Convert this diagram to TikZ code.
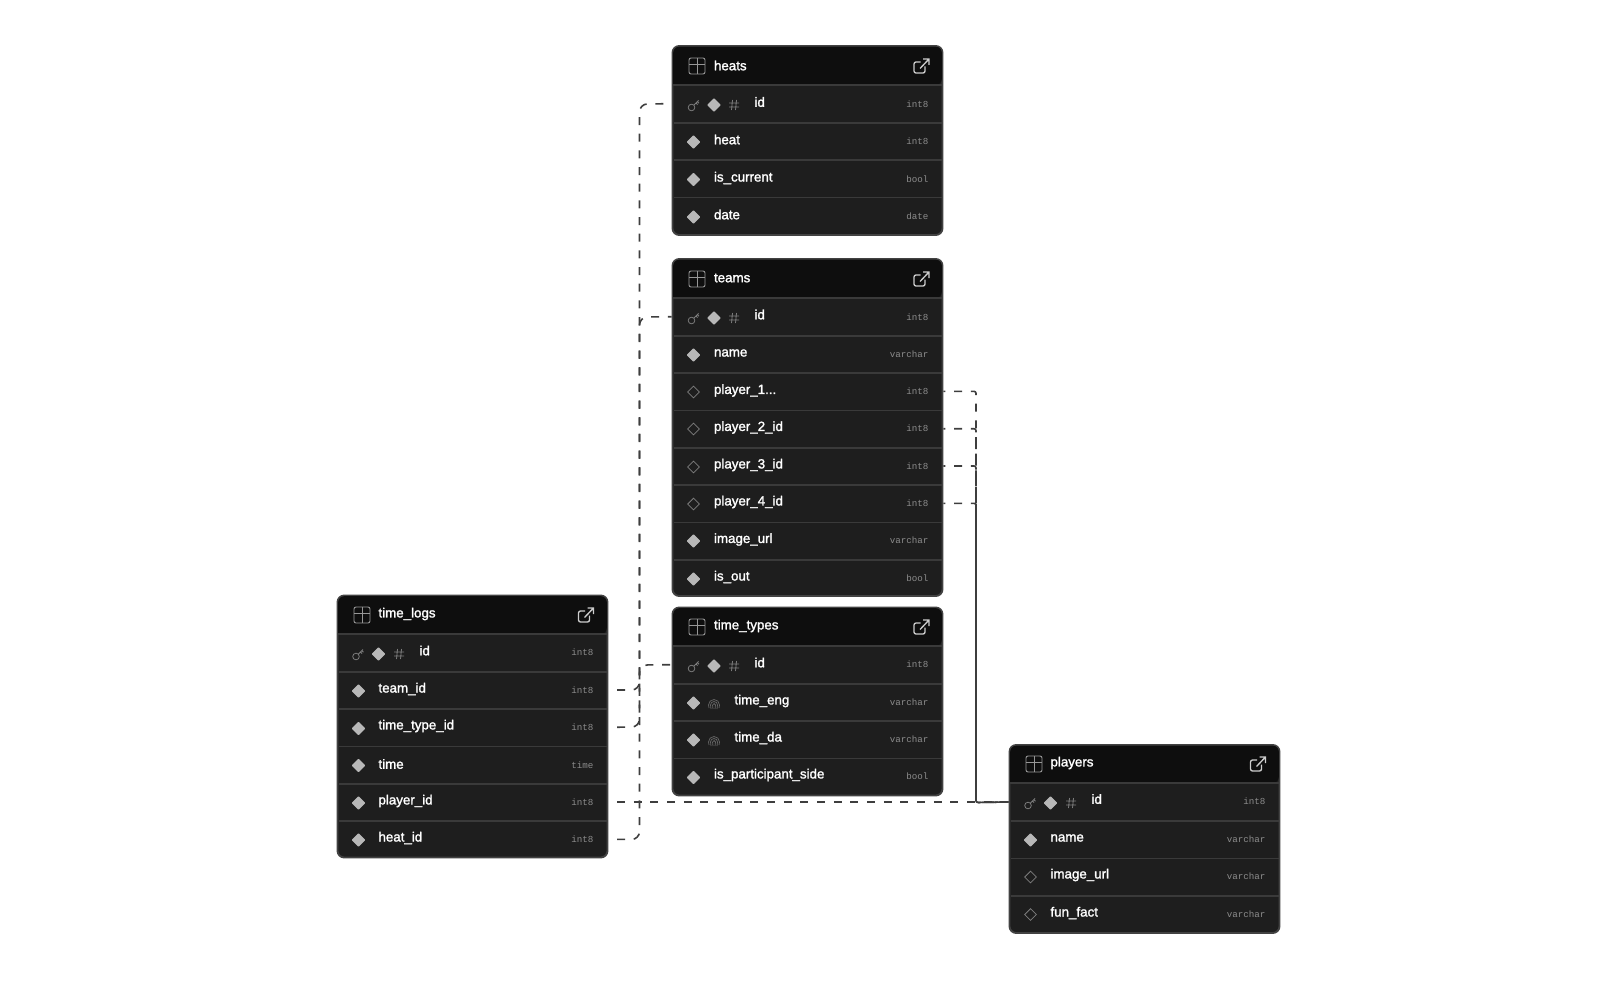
\documentclass[tikz,border=0pt]{standalone}
\usepackage{fontspec}
\setmainfont{Liberation Sans}
\setmonofont{Liberation Mono}
\newfontfamily\fieldfont[FakeBold=1.6]{Liberation Sans}
\usetikzlibrary{shapes.geometric,backgrounds}
\definecolor{tablebody}{RGB}{30,30,30}
\definecolor{tablehead}{RGB}{14,14,14}
\definecolor{tableedge}{RGB}{66,66,66}
\definecolor{rowedge}{RGB}{58,58,58}
\definecolor{iconfill}{RGB}{184,184,184}
\definecolor{icongray}{RGB}{125,125,125}
\definecolor{printgray}{RGB}{100,100,100}
\definecolor{headicon}{RGB}{150,150,150}
\definecolor{openicon}{RGB}{205,205,205}
\definecolor{typegray}{RGB}{140,140,140}
\definecolor{linkgray}{RGB}{62,62,62}
\tikzset{
  every picture/.style={line width=0.75pt},
  tablebox/.style={draw=tableedge,line width=1.4pt,fill=tablebody,rounded corners=5pt,minimum width=270*0.75,inner sep=0pt},
  tablename/.style={anchor=west,inner sep=0pt,text=white,font=\fieldfont\fontsize{10pt}{12pt}\selectfont},
  rowbox/.style={minimum width=267*0.75,minimum height=37.3*0.75,inner sep=0pt,
    append after command={(\tikzlastnode.south west) edge[rowline] (\tikzlastnode.south east)}},
  lastrow/.style={minimum width=267*0.75,minimum height=37.3*0.75,inner sep=0pt},
  rowline/.style={draw=rowedge,line width=1pt},
  fieldname/.style={anchor=west,inner sep=0pt,text=white,font=\fieldfont\fontsize{10pt}{12pt}\selectfont},
  fieldtype/.style={anchor=east,inner sep=0pt,text=typegray,font=\ttfamily\fontsize{6.9pt}{8pt}\selectfont},
  notnull/.style={diamond,draw=iconfill,line join=round,line width=0.8pt,fill=iconfill,minimum width=12.5*0.75,minimum height=12.5*0.75,inner sep=0pt},
  nullable/.style={diamond,draw=icongray,line width=0.6pt,minimum width=12*0.75,minimum height=12*0.75,inner sep=0pt},
  fklink/.style={draw=linkgray,line width=1.2pt,rounded corners=6pt,dash pattern=on 6pt off 6.5pt},
  fkplayer/.style={fklink,rounded corners=1.5pt},
  tableicon/.pic={\draw[yscale=-1,draw=headicon,line width=0.7pt,rounded corners=1.5pt] (-8,-8) rectangle (8,8);
    \draw[yscale=-1,draw=headicon,line width=0.7pt] (-8,-2) -- (8,-2) (0,-8) -- (0,8);},
  linkicon/.pic={\draw[yscale=-1,draw=openicon,line width=1pt,rounded corners=1.5pt] (-1,-4) -- (-7.5,-4) -- (-7.5,7) -- (3.5,7) -- (3.5,0.5);
    \draw[yscale=-1,draw=openicon,line width=1pt] (-1.5,2.5) -- (7.5,-7) (1.5,-7) -- (7.5,-7) -- (7.5,-1);},
  keyicon/.pic={\draw[yscale=-1,draw=icongray,line width=0.6pt] (-2,2.5) circle (3.3) (0.4,0.1) -- (5,-4.5) (2.5,-2) -- (4,-0.5) (3.8,-3.3) -- (5.5,-1.8);},
  hashicon/.pic={\draw[yscale=-1,draw=icongray,line width=0.6pt] (-5,-2) -- (5,-2) (-5,2) -- (5,2) (-1.5,-5) -- (-2.5,5) (2.5,-5) -- (1.5,5);},
  printicon/.pic={\draw[yscale=-1,draw=printgray,line width=0.55pt] (-5.5,2) arc (180:360:5.5) (-5.5,2) -- (-5,5) (5.5,2) -- (5,5)
    (-3.5,2) arc (180:360:3.5) (-3.5,2) -- (-3,6) (3.5,2) -- (3,6) (-1.5,2) arc (180:360:1.5) (-1.5,2) -- (-1,6) (1.5,2) -- (1,6);},
}
\begin{document}
\begin{tikzpicture}[x=0.75pt,y=0.75pt,yscale=-1,xscale=1]
\useasboundingbox (0,0) rectangle (1615,1006);

\coordinate (heats_knee) at (639.5,104);
\coordinate (logs_knee) at (639.5,839.5);
\coordinate (teams_knee) at (639.5,317);
\coordinate (team_id_knee) at (639.5,690);
\coordinate (types_knee) at (639.5,665);
\coordinate (type_id_knee) at (639.5,727);
\coordinate (players_knee) at (976,802.5);
\coordinate (player_one_knee) at (976,391.3);
\coordinate (player_two_knee) at (976,428.7);
\coordinate (player_three_knee) at (976,466);
\coordinate (player_four_knee) at (976,503.3);

%Tables [heats]
\node[tablebox,minimum height=189*0.75] (heats) at (807.5,140.5) {};
\fill[tablehead,rounded corners=4.5pt] (673.2,85) -- (673.2,46.7) -- (941.8,46.7) -- (941.8,85) [sharp corners] -- cycle;
\draw[rowline] (673.2,85) -- (941.8,85);
\pic at (697,66) {tableicon};
\node[tablename] (heats_title) at (713.5,65.5) {heats};
\pic at (921.5,66) {linkicon};
\node[rowbox] (heats_id) at (807.5,103.7) {};
\pic at (693.5,105) {keyicon};
\node[notnull] (heats_id_mark) at (714,105) {};
\pic at (734,105) {hashicon};
\node[fieldname] (heats_id_name) at (754,102) {id};
\node[fieldtype] (heats_id_type) at (929,104) {int8};
\node[rowbox] (heats_heat) at (807.5,141) {};
\node[notnull] (heats_heat_mark) at (693.5,142) {};
\node[fieldname] (heats_heat_name) at (713.5,139.5) {heat};
\node[fieldtype] (heats_heat_type) at (929,141) {int8};
\node[rowbox] (heats_current) at (807.5,178.3) {};
\node[notnull] (heats_current_mark) at (693.5,179.5) {};
\node[fieldname] (heats_current_name) at (713.5,178) {is\_current};
\node[fieldtype] (heats_current_type) at (929,179) {bool};
\node[lastrow] (heats_date) at (807.5,215.7) {};
\node[notnull] (heats_date_mark) at (693.5,217) {};
\node[fieldname] (heats_date_name) at (713.5,214.5) {date};
\node[fieldtype] (heats_date_type) at (929,216) {date};

%Tables [teams]
\node[tablebox,minimum height=337*0.75] (teams) at (807.5,427.5) {};
\fill[tablehead,rounded corners=4.5pt] (673.2,298) -- (673.2,259.7) -- (941.8,259.7) -- (941.8,298) [sharp corners] -- cycle;
\draw[rowline] (673.2,298) -- (941.8,298);
\pic at (697,279) {tableicon};
\node[tablename] (teams_title) at (713.5,278) {teams};
\pic at (921.5,279) {linkicon};
\node[rowbox] (teams_id) at (807.5,316.7) {};
\pic at (693.5,318) {keyicon};
\node[notnull] (teams_id_mark) at (714,318) {};
\pic at (734,318) {hashicon};
\node[fieldname] (teams_id_name) at (754,314.5) {id};
\node[fieldtype] (teams_id_type) at (929,317) {int8};
\node[rowbox] (teams_name) at (807.5,354) {};
\node[notnull] (teams_name_mark) at (693.5,355) {};
\node[fieldname] (teams_name_name) at (713.5,353) {name};
\node[fieldtype] (teams_name_type) at (929,354) {varchar};
\node[rowbox] (teams_player_one) at (807.5,391.3) {};
\node[nullable] (teams_player_one_mark) at (693.5,392) {};
\node[fieldname] (teams_player_one_name) at (713.5,390.5) {player\_1...};
\node[fieldtype] (teams_player_one_type) at (929,391) {int8};
\node[rowbox] (teams_player_two) at (807.5,428.7) {};
\node[nullable] (teams_player_two_mark) at (693.5,429) {};
\node[fieldname] (teams_player_two_name) at (713.5,427.5) {player\_2\_id};
\node[fieldtype] (teams_player_two_type) at (929,428) {int8};
\node[rowbox] (teams_player_three) at (807.5,466) {};
\node[nullable] (teams_player_three_mark) at (693.5,467) {};
\node[fieldname] (teams_player_three_name) at (713.5,465) {player\_3\_id};
\node[fieldtype] (teams_player_three_type) at (929,466) {int8};
\node[rowbox] (teams_player_four) at (807.5,503.3) {};
\node[nullable] (teams_player_four_mark) at (693.5,504) {};
\node[fieldname] (teams_player_four_name) at (713.5,502) {player\_4\_id};
\node[fieldtype] (teams_player_four_type) at (929,503) {int8};
\node[rowbox] (teams_image) at (807.5,540.7) {};
\node[notnull] (teams_image_mark) at (693.5,541) {};
\node[fieldname] (teams_image_name) at (713.5,539.5) {image\_url};
\node[fieldtype] (teams_image_type) at (929,540) {varchar};
\node[lastrow] (teams_out) at (807.5,578) {};
\node[notnull] (teams_out_mark) at (693.5,579) {};
\node[fieldname] (teams_out_name) at (713.5,577) {is\_out};
\node[fieldtype] (teams_out_type) at (929,578) {bool};

%Tables [time_types]
\node[tablebox,minimum height=188*0.75] (types) at (807.5,701.5) {};
\fill[tablehead,rounded corners=4.5pt] (673.2,646) -- (673.2,608.2) -- (941.8,608.2) -- (941.8,646) [sharp corners] -- cycle;
\draw[rowline] (673.2,646) -- (941.8,646);
\pic at (697,627) {tableicon};
\node[tablename] (types_title) at (713.5,626) {time\_types};
\pic at (921.5,627) {linkicon};
\node[rowbox] (types_id) at (807.5,664.7) {};
\pic at (693.5,666) {keyicon};
\node[notnull] (types_id_mark) at (714,666) {};
\pic at (734,666) {hashicon};
\node[fieldname] (types_id_name) at (754,662.5) {id};
\node[fieldtype] (types_id_type) at (929,664.5) {int8};
\node[rowbox] (types_eng) at (807.5,702) {};
\node[notnull] (types_eng_mark) at (693.5,703) {};
\pic at (714,703) {printicon};
\node[fieldname] (types_eng_name) at (734,701) {time\_eng};
\node[fieldtype] (types_eng_type) at (929,702) {varchar};
\node[rowbox] (types_da) at (807.5,739.3) {};
\node[notnull] (types_da_mark) at (693.5,740) {};
\pic at (714,740) {printicon};
\node[fieldname] (types_da_name) at (734,738) {time\_da};
\node[fieldtype] (types_da_type) at (929,739) {varchar};
\node[lastrow] (types_side) at (807.5,776.7) {};
\node[notnull] (types_side_mark) at (693.5,777.5) {};
\node[fieldname] (types_side_name) at (713.5,775) {is\_participant\_side};
\node[fieldtype] (types_side_type) at (929,776) {bool};

%Tables [time_logs]
\node[tablebox,minimum height=262*0.75] (logs) at (472.5,726.5) {};
\fill[tablehead,rounded corners=4.5pt] (338.2,634) -- (338.2,596.2) -- (606.8,596.2) -- (606.8,634) [sharp corners] -- cycle;
\draw[rowline] (338.2,634) -- (606.8,634);
\pic at (362,615) {tableicon};
\node[tablename] (logs_title) at (378,614) {time\_logs};
\pic at (586,615) {linkicon};
\node[rowbox] (logs_id) at (472.5,652.7) {};
\pic at (358,654) {keyicon};
\node[notnull] (logs_id_mark) at (378.5,654) {};
\pic at (399,654) {hashicon};
\node[fieldname] (logs_id_name) at (419,650.5) {id};
\node[fieldtype] (logs_id_type) at (594,652) {int8};
\node[rowbox] (logs_team) at (472.5,690) {};
\node[notnull] (logs_team_mark) at (358.5,691) {};
\node[fieldname] (logs_team_name) at (378,689) {team\_id};
\node[fieldtype] (logs_team_type) at (594,690) {int8};
\node[rowbox] (logs_type) at (472.5,727.3) {};
\node[notnull] (logs_type_mark) at (358.5,728.5) {};
\node[fieldname] (logs_type_name) at (378,726) {time\_type\_id};
\node[fieldtype] (logs_type_type) at (594,727) {int8};
\node[rowbox] (logs_time) at (472.5,764.7) {};
\node[notnull] (logs_time_mark) at (358.5,765.5) {};
\node[fieldname] (logs_time_name) at (378,764) {time};
\node[fieldtype] (logs_time_type) at (594,765) {time};
\node[rowbox] (logs_player) at (472.5,802) {};
\node[notnull] (logs_player_mark) at (358.5,803) {};
\node[fieldname] (logs_player_name) at (378,801) {player\_id};
\node[fieldtype] (logs_player_type) at (594,802) {int8};
\node[lastrow] (logs_heat) at (472.5,839.3) {};
\node[notnull] (logs_heat_mark) at (358.5,840) {};
\node[fieldname] (logs_heat_name) at (378,838) {heat\_id};
\node[fieldtype] (logs_heat_type) at (594,839) {int8};

%Tables [players]
\node[tablebox,minimum height=188*0.75] (players) at (1144.5,839) {};
\fill[tablehead,rounded corners=4.5pt] (1010.2,783) -- (1010.2,745.7) -- (1278.8,745.7) -- (1278.8,783) [sharp corners] -- cycle;
\draw[rowline] (1010.2,783) -- (1278.8,783);
\pic at (1034,764) {tableicon};
\node[tablename] (players_title) at (1050,763) {players};
\pic at (1258,764) {linkicon};
\node[rowbox] (players_id) at (1144.5,802) {};
\pic at (1030,803) {keyicon};
\node[notnull] (players_id_mark) at (1050.5,803) {};
\pic at (1071,803) {hashicon};
\node[fieldname] (players_id_name) at (1091,799) {id};
\node[fieldtype] (players_id_type) at (1266,801.5) {int8};
\node[rowbox] (players_name) at (1144.5,839.3) {};
\node[notnull] (players_name_mark) at (1030.5,840) {};
\node[fieldname] (players_name_name) at (1050,838) {name};
\node[fieldtype] (players_name_type) at (1266,839) {varchar};
\node[rowbox] (players_image) at (1144.5,876.7) {};
\node[nullable] (players_image_mark) at (1030.5,877) {};
\node[fieldname] (players_image_name) at (1050,875) {image\_url};
\node[fieldtype] (players_image_type) at (1266,876) {varchar};
\node[lastrow] (players_fact) at (1144.5,914) {};
\node[nullable] (players_fact_mark) at (1030.5,914.5) {};
\node[fieldname] (players_fact_name) at (1050,913) {fun\_fact};
\node[fieldtype] (players_fact_type) at (1266,914) {varchar};

%Connectors, under the tables
\begin{scope}[on background layer]
\draw[fklink,dash phase=6pt] (logs.east |- logs_heat) -- (logs_knee) -- (heats_knee) -- (heats.west |- heats_id);
\draw[fklink,dash phase=6pt] (logs.east |- logs_team) -- (team_id_knee) -- (teams_knee) -- (teams.west |- teams_id);
\draw[fklink,dash phase=6pt] (logs.east |- logs_type) -- (type_id_knee) -- (types_knee) -- (types.west |- types_id);
\draw[fklink,dash phase=6pt] (logs.east |- logs_player) -- (players.west |- players_id);
\draw[fkplayer,dash phase=4.5pt] (teams.east |- teams_player_one) -- (player_one_knee) -- (players_knee) -- (players.west |- players_id);
\draw[fkplayer,dash phase=4.5pt] (teams.east |- teams_player_two) -- (player_two_knee) -- (players_knee) -- (players.west |- players_id);
\draw[fkplayer,dash phase=4.5pt] (teams.east |- teams_player_three) -- (player_three_knee) -- (players_knee) -- (players.west |- players_id);
\draw[fkplayer,dash phase=4.5pt] (teams.east |- teams_player_four) -- (player_four_knee) -- (players_knee) -- (players.west |- players_id);
\end{scope}

\end{tikzpicture}
\end{document}
